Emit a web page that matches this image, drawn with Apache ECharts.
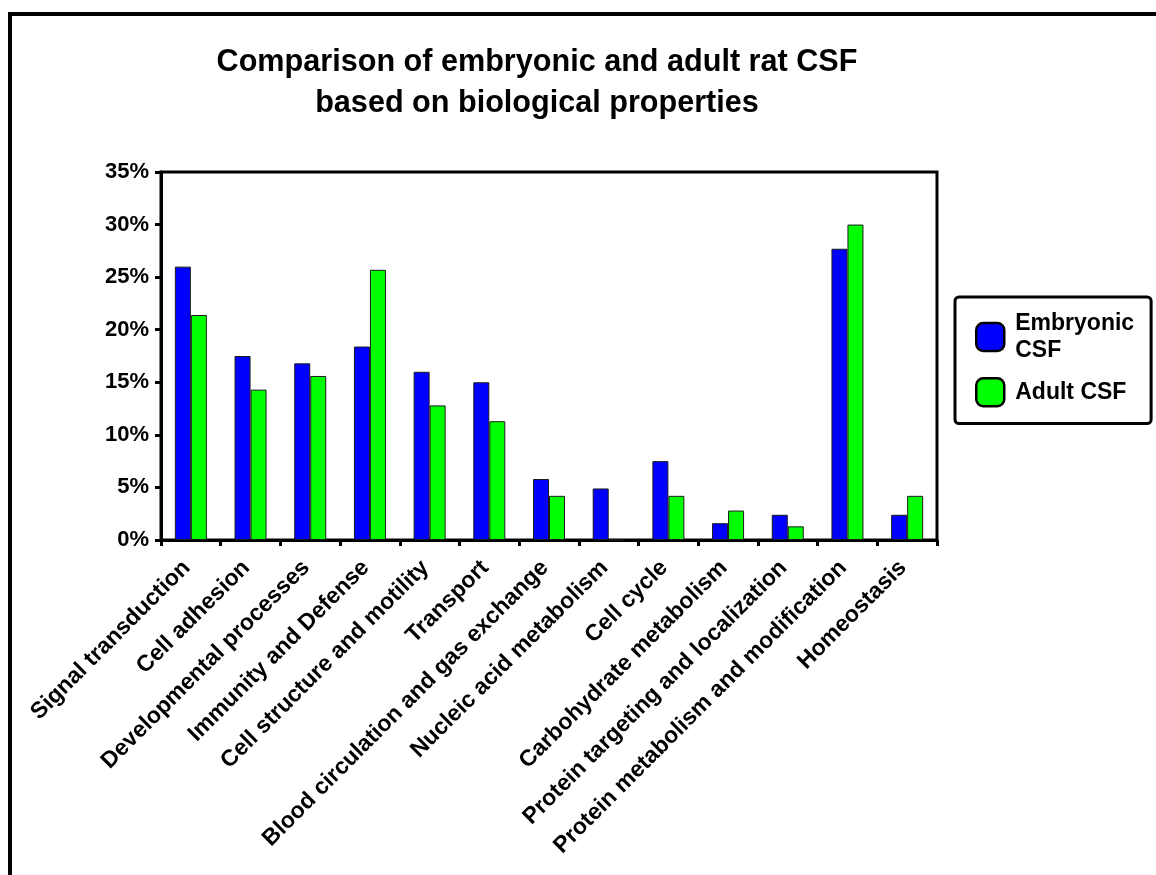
<!DOCTYPE html>
<html>
<head>
<meta charset="utf-8">
<title>Embryonic vs adult rat CSF</title>
<script src="https://cdn.jsdelivr.net/npm/echarts@6/dist/echarts.min.js"></script>
<style>
  html, body { margin: 0; padding: 0; background: #fff; }
  #chart { width: 1156px; height: 875px; }
</style>
</head>
<body>
<div id="chart"></div>
<script>
// Biological process categories (x axis)
const categories = [
  'Signal transduction',
  'Cell adhesion',
  'Developmental processes',
  'Immunity and Defense',
  'Cell structure and motility',
  'Transport',
  'Blood circulation and gas exchange',
  'Nucleic acid metabolism',
  'Cell cycle',
  'Carbohydrate metabolism',
  'Protein targeting and localization',
  'Protein metabolism and modification',
  'Homeostasis'
];

// Share of proteins per category, in percent
const embryonicCSF = [26.0, 17.5, 16.8, 18.4, 16.0, 15.0, 5.8, 4.9, 7.5, 1.6, 2.4, 27.7, 2.4];
const adultCSF     = [21.4, 14.3, 15.6, 25.7, 12.8, 11.3, 4.2, 0, 4.2, 2.8, 1.3, 30.0, 4.2];

// Value axis ticks
const yTicks = { min: 0, max: 35, interval: 5 };

const FONT = '"Liberation Sans", Arial, sans-serif';

const chart = echarts.init(document.getElementById('chart'), null, { renderer: 'canvas' });

chart.setOption({
  backgroundColor: '#ffffff',
  animation: false,
  textStyle: { fontFamily: FONT },
  title: {
    text: 'Comparison of embryonic and adult rat CSF\nbased on biological properties',
    left: 532,
    top: 37,
    textAlign: 'center',
    textStyle: {
      fontFamily: FONT,
      fontSize: 30.6,
      fontWeight: 'bold',
      color: '#000',
      lineHeight: 41
    }
  },
  graphic: [{
    type: 'rect',
    shape: { x: 10, y: 14, width: 1300, height: 1000 },
    style: { fill: 'none', stroke: '#000', lineWidth: 4 },
    silent: true,
    z: 100
  }],
  legend: {
    orient: 'vertical',
    left: 955,
    top: 297,
    padding: [13, 17, 16, 20],
    itemGap: 13,
    itemWidth: 28,
    itemHeight: 28,
    icon: 'roundRect',
    borderColor: '#000',
    borderWidth: 3,
    borderRadius: 4,
    backgroundColor: '#fff',
    itemStyle: { borderColor: '#000', borderWidth: 2.5 },
    formatter: function (name) {
      return name === 'Embryonic CSF' ? 'Embryonic\nCSF' : name;
    },
    textStyle: {
      fontFamily: FONT,
      fontSize: 23,
      fontWeight: 'bold',
      color: '#000',
      lineHeight: 27,
      padding: [0, 0, 0, 6]
    },
    data: ['Embryonic CSF', 'Adult CSF']
  },
  grid: {
    left: 161,
    top: 172,
    right: 219,
    bottom: 335,
    show: true,
    borderColor: '#000',
    borderWidth: 3,
    containLabel: false
  },
  xAxis: {
    type: 'category',
    data: categories,
    boundaryGap: true,
    axisLine: { lineStyle: { color: '#000', width: 3 } },
    axisTick: { show: true, inside: false, length: 6, lineStyle: { color: '#000', width: 3 } },
    axisLabel: {
      interval: 0,
      rotate: 45,
      margin: 20,
      padding: [0, 6, 0, 0],
      fontFamily: FONT,
      fontSize: 23,
      fontWeight: 'bold',
      color: '#000'
    },
    splitLine: { show: false }
  },
  yAxis: {
    type: 'value',
    min: yTicks.min,
    max: yTicks.max,
    interval: yTicks.interval,
    axisLine: { show: true, lineStyle: { color: '#000', width: 3 } },
    axisTick: { show: true, inside: false, length: 6, lineStyle: { color: '#000', width: 3 } },
    axisLabel: {
      formatter: '{value}%',
      margin: 12,
      fontFamily: FONT,
      fontSize: 22,
      fontWeight: 'bold',
      color: '#000'
    },
    splitLine: { show: false }
  },
  series: [
    {
      name: 'Embryonic CSF',
      type: 'bar',
      data: embryonicCSF,
      barWidth: 16,
      barGap: '0%',
      itemStyle: { color: '#0000ff', borderColor: '#1a1a1a', borderWidth: 1 }
    },
    {
      name: 'Adult CSF',
      type: 'bar',
      data: adultCSF,
      barWidth: 16,
      barGap: '0%',
      itemStyle: { color: '#00ff00', borderColor: '#1a1a1a', borderWidth: 1 }
    }
  ]
});
</script>
</body>
</html>
